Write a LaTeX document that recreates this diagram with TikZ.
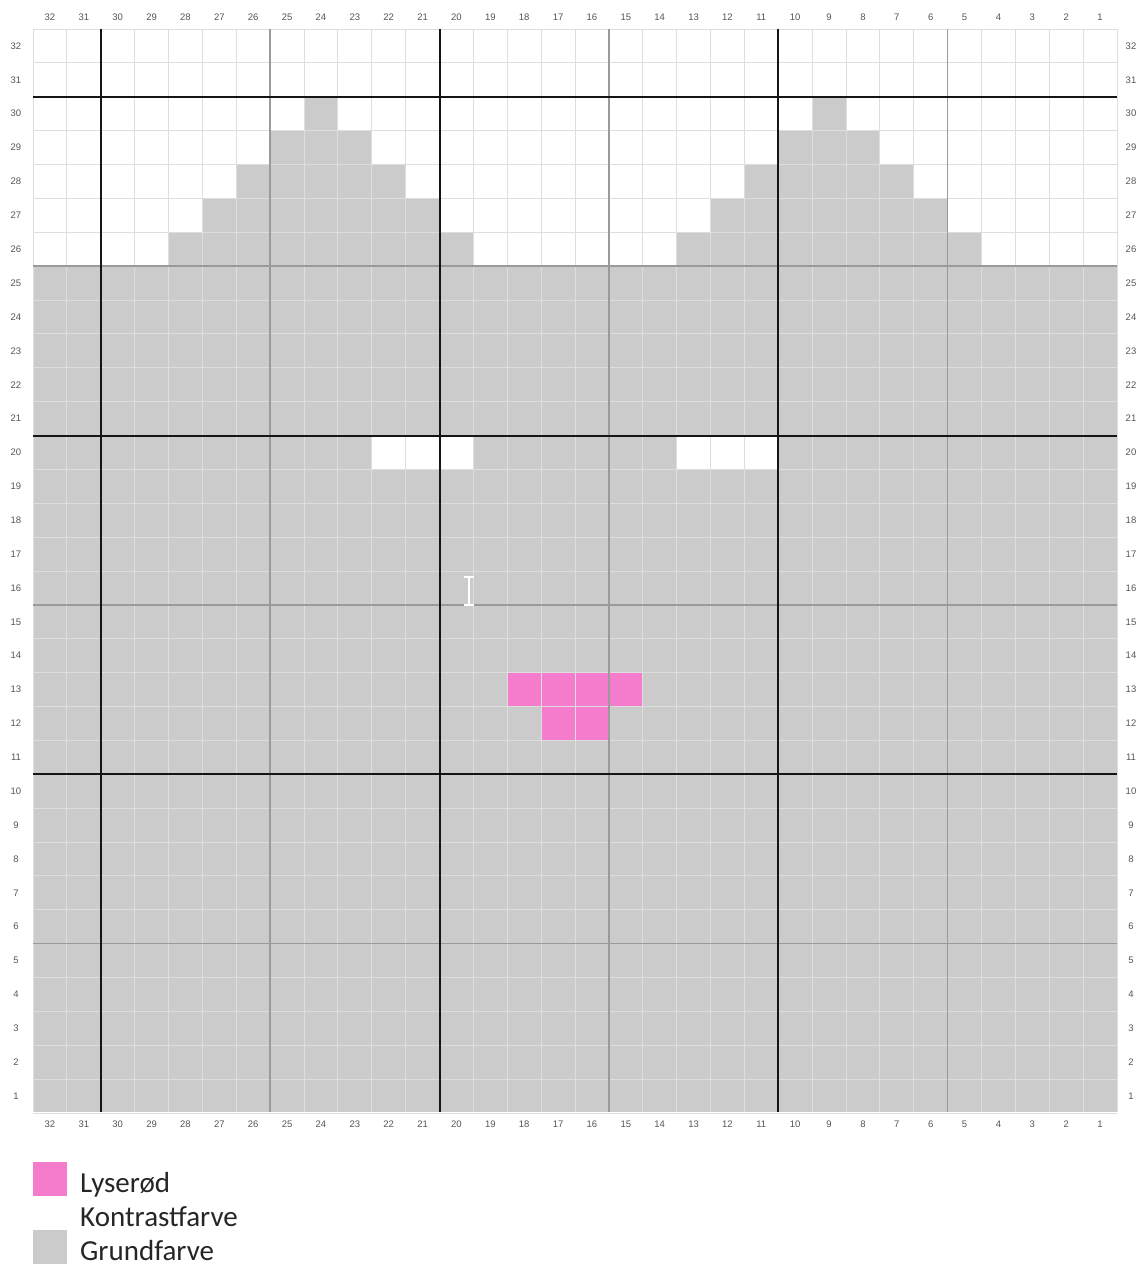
\documentclass[tikz,border=0pt]{standalone}
\usepackage{fontspec}
\setmainfont{Liberation Sans}
\newfontfamily\legendfont{Carlito}
\definecolor{grund}{HTML}{CBCBCB}
\definecolor{pinkc}{HTML}{F57CCD}
\definecolor{thinl}{HTML}{DEDEDE}
\definecolor{lbl}{HTML}{555555}
\definecolor{midl}{HTML}{9A9A9A}
\definecolor{blackl}{HTML}{151515}
\tikzset{
  numlbl/.style={text=lbl,font=\fontsize{9.5}{10}\selectfont,inner sep=0pt},
  legtxt/.style={text=black!85,font=\legendfont\fontsize{29}{32}\selectfont,inner sep=0pt,anchor=base west},
  thinline/.style={draw=thinl,line width=1pt},
  midline/.style={draw=midl,line width=1.6pt},
  boldline/.style={draw=blackl,line width=2pt}
}
\begin{document}
\begin{tikzpicture}[x=1pt,y=-1pt]
\useasboundingbox[fill=white] (0,0) rectangle (1139,1267);
\def\s{33.875}
% base colour rows 1-25
\fill[grund] (33,{29+7*\s}) rectangle (1117,1112);
% triangles
\foreach \r/\a/\b in {26/28/20,27/27/21,28/26/22,29/25/23,30/24/24,26/13/5,27/12/6,28/11/7,29/10/8,30/9/9}{
  \fill[grund] ({33+(32-\a)*\s},{29+(32-\r)*\s}) rectangle ({33+(33-\b)*\s},{29+(33-\r)*\s});
}
% contrast cells row 20
\foreach \r/\a/\b in {20/22/20,20/13/11}{
  \fill[white] ({33+(32-\a)*\s},{29+(32-\r)*\s}) rectangle ({33+(33-\b)*\s},{29+(33-\r)*\s});
}
% pink cells
\foreach \r/\a/\b in {13/18/15,12/17/16}{
  \fill[pinkc] ({33+(32-\a)*\s},{29+(32-\r)*\s}) rectangle ({33+(33-\b)*\s},{29+(33-\r)*\s});
}
% thin grid
\foreach \i in {0,...,32}{
  \draw[thinline] ({33+\i*\s},29) -- ({33+\i*\s},1112);
  \draw[thinline] (33,{29+\i*\s}) -- (1117,{29+\i*\s});
}
% medium lines
\foreach \i in {7,17,27}{
  \draw[midline] ({33+\i*\s},29) -- ({33+\i*\s},1112);
  \draw[midline] (33,{29+\i*\s}) -- (1117,{29+\i*\s});
}
% bold lines
\foreach \i in {2,12,22}{
  \draw[boldline] ({33+\i*\s},29) -- ({33+\i*\s},1112);
  \draw[boldline] (33,{29+\i*\s}) -- (1117,{29+\i*\s});
}
% column and row numbers
\foreach \c in {1,...,32}{
  \node[numlbl] (top\c) at ({33+(32.5-\c)*\s},17) {\c};
  \node[numlbl] (bot\c) at ({33+(32.5-\c)*\s},1124) {\c};
  \node[numlbl] (lft\c) at (16,{29+(32.5-\c)*\s}) {\c};
  \node[numlbl] (rgt\c) at (1131,{29+(32.5-\c)*\s}) {\c};
}
% text cursor
\draw[white,line width=1.3pt] (469,577) -- (469,605);
\draw[white,line width=1.1pt] (464,577) -- (474,577) (464,605) -- (474,605);
% legend
\fill[pinkc] (33,1162) rectangle (67,1196);
\fill[white] (33,1196) rectangle (67,1230);
\fill[grund] (33,1230) rectangle (67,1264);
\node[legtxt] (l1) at (80,1192) {Lyserød};
\node[legtxt] (l2) at (80,1226) {Kontrastfarve};
\node[legtxt] (l3) at (80,1260) {Grundfarve};
\end{tikzpicture}
\end{document}
